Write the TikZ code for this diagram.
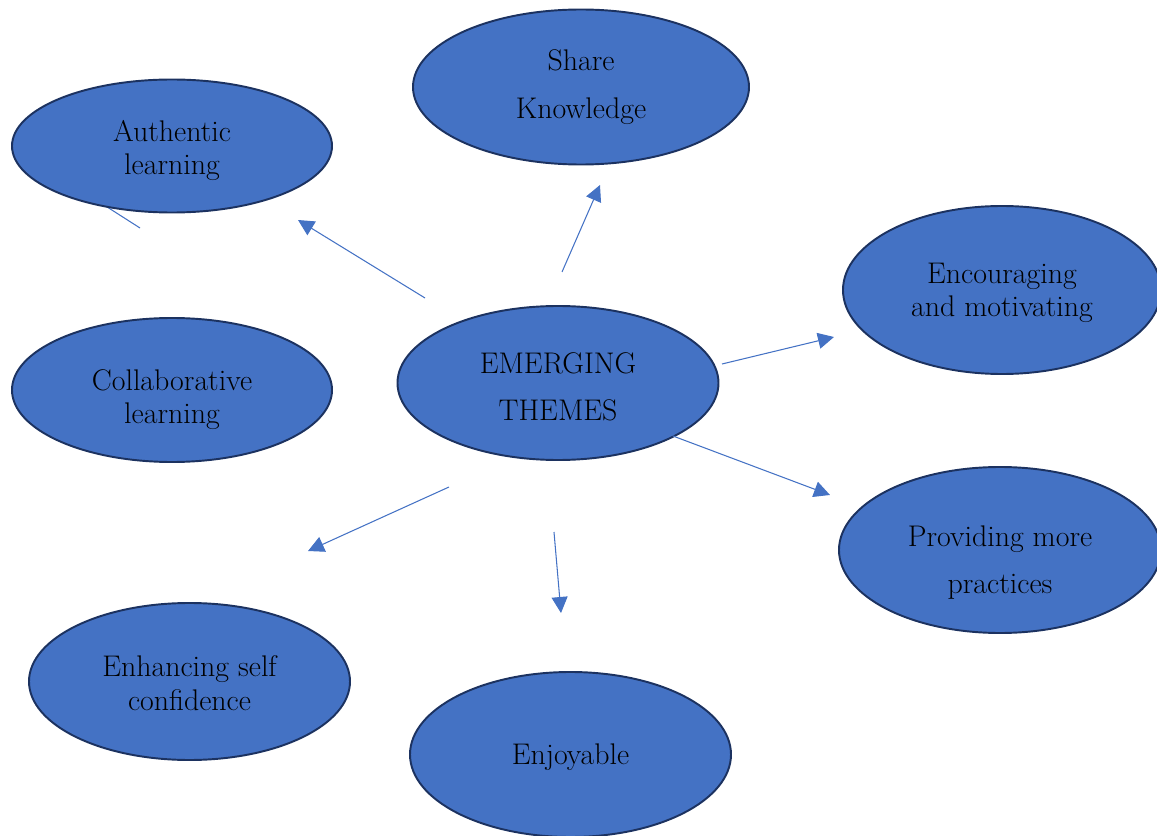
\documentclass[tikz,border=0pt]{standalone}
\usepackage{tikz}
\usetikzlibrary{arrows.meta,shapes.geometric}
\definecolor{themefill}{HTML}{4472C4}
\definecolor{themeline}{HTML}{1C3260}
% lower the text inside its ellipse without moving the ellipse
\newcommand{\sunk}[2]{\raisebox{-#1}[\height][\depth]{\begin{tabular}{@{}c@{}}#2\end{tabular}}}

\begin{document}
\begin{tikzpicture}[
    theme/.style={ellipse, draw=themeline, line width=1.1pt, fill=themefill, align=center, inner sep=0pt,
      minimum width=6.4cm, minimum height=3cm, font=\fontsize{17}{19}\selectfont},
    wide/.style={font=\fontsize{17}{27}\selectfont},
    link/.style={themefill, line width=0.6pt},
    >={Triangle[length=3.2mm,width=3.2mm]}
]
\useasboundingbox (0,0) rectangle (23.14,16.7);
% stray line behind the first ellipse
\coordinate (s1) at (2.08,12.6);
\coordinate (s2) at (2.8,12.14);
\draw[link] (s1) -- (s2);

\node[theme, minimum height=2.66cm] (auth) at (3.44,13.78) {\sunk{3pt}{Authentic\\learning}};
\node[theme, wide, minimum width=6.72cm, minimum height=3.1cm] (share) at (11.62,14.96) {Share\\Knowledge};
\node[theme, minimum width=6.36cm, minimum height=3.36cm] (enc) at (20.04,10.9) {\sunk{2pt}{Encouraging\\and motivating}};
\node[theme, minimum height=2.88cm] (collab) at (3.44,8.9) {\sunk{6pt}{Collaborative\\learning}};
\node[theme, wide, minimum width=6.42cm, minimum height=3.08cm] (em) at (11.16,9.04) {\sunk{2.5pt}{EMERGING\\THEMES}};
\node[theme, wide, minimum width=6.44cm, minimum height=3.32cm] (prov) at (20.0,5.7) {\sunk{6pt}{Providing more\\practices}};
\node[theme, minimum width=6.42cm, minimum height=3.14cm] (enh) at (3.79,3.07) {\sunk{3pt}{Enhancing self\\confidence}};
\node[theme, minimum width=6.42cm, minimum height=3.3cm] (enj) at (11.41,1.61) {\sunk{2pt}{Enjoyable}};

% arrow ends
\coordinate (a1) at (8.5,10.74);   \coordinate (b1) at (5.96,12.3);
\coordinate (a2) at (11.24,11.26); \coordinate (b2) at (12.0,13.0);
\coordinate (a3) at (14.44,9.42);  \coordinate (b3) at (16.68,9.96);
\coordinate (a4) at (13.46,7.98);  \coordinate (b4) at (16.6,6.8);
\coordinate (a5) at (8.98,6.96);   \coordinate (b5) at (6.16,5.68);
\coordinate (a6) at (11.08,6.06);  \coordinate (b6) at (11.22,4.44);

\draw[link,->] (a1) -- (b1);
\draw[link,->] (a2) -- (b2);
\draw[link,->] (a3) -- (b3);
\draw[link,->] (a4) -- (b4);
\draw[link,->] (a5) -- (b5);
\draw[link,->] (a6) -- (b6);
\end{tikzpicture}
\end{document}
